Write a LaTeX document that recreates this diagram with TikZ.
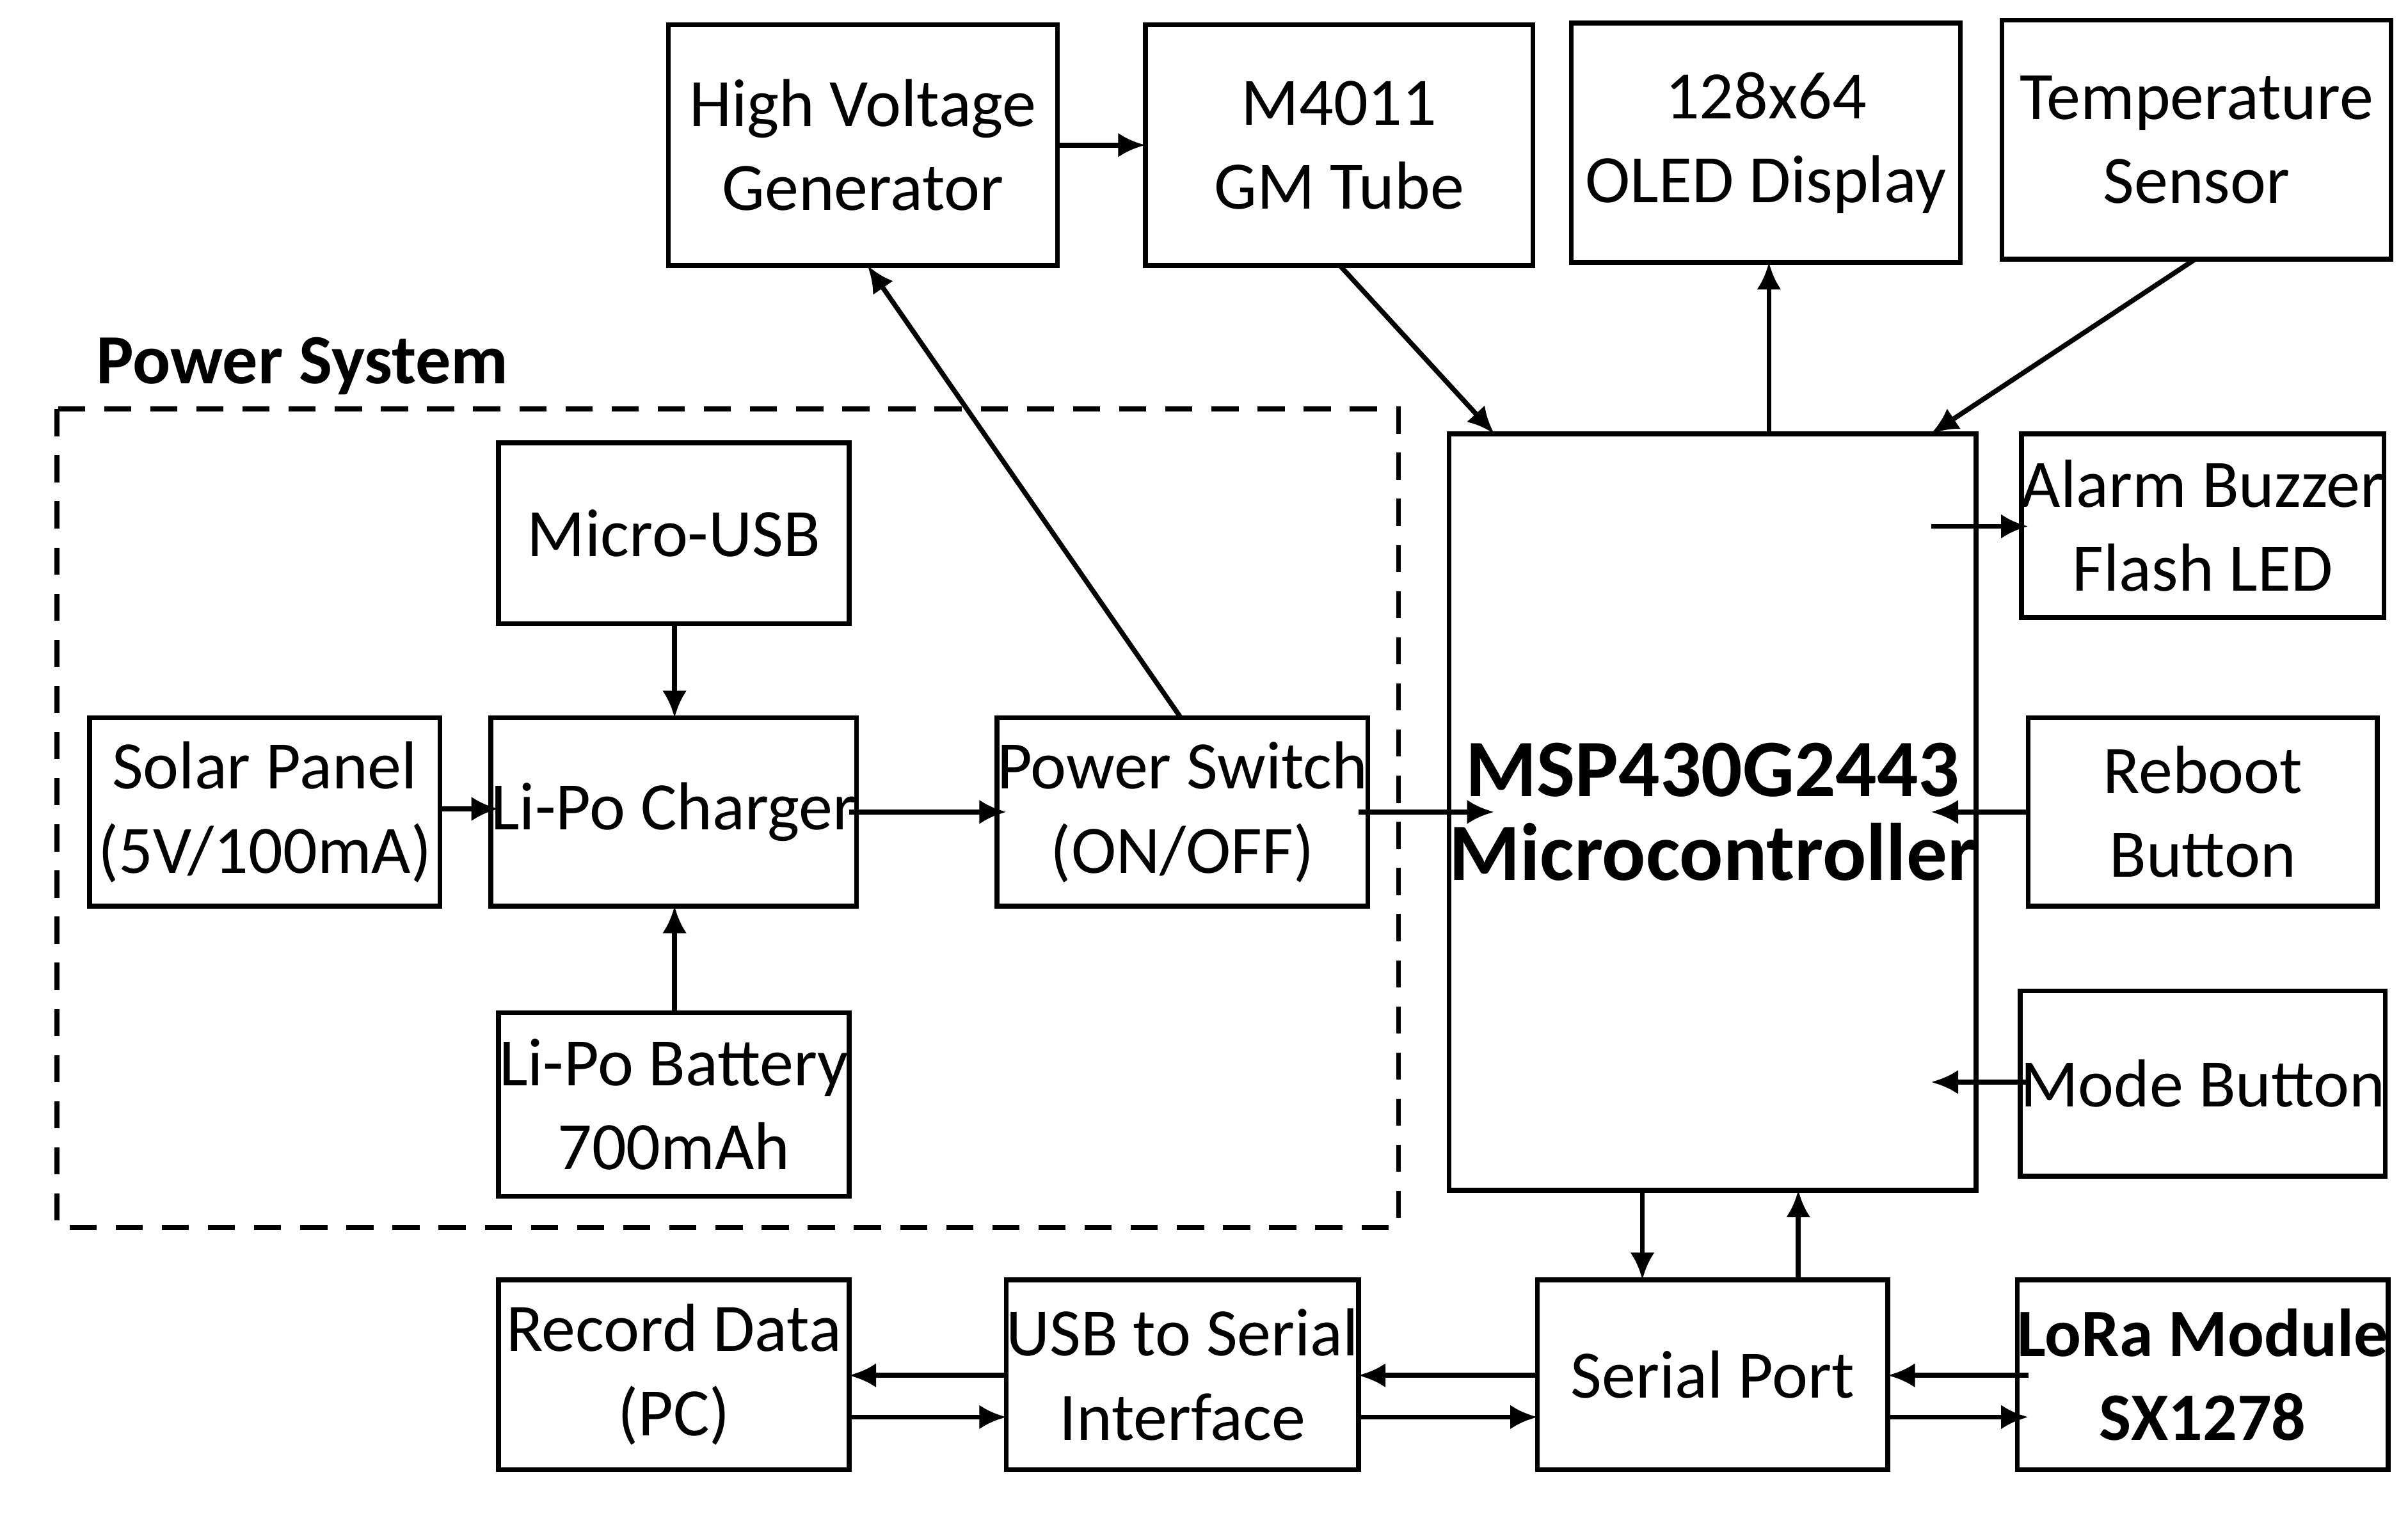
\documentclass[tikz,border=0pt]{standalone}
\usepackage{fontspec}
\setmainfont{Carlito}
\usetikzlibrary{arrows.meta}
\begin{document}
\begin{tikzpicture}[x=0.01cm,y=-0.01cm,
  box/.style={draw,line width=0.9pt,align=center,font=\fontsize{12.5}{15.5}\selectfont},
  arr/.style={line width=0.9pt,-{Latex[length=5pt,width=4.5pt]}}]
\useasboundingbox (0,0) rectangle (1560,982);
\newcommand\bx[6]{\node[box,minimum width={(#4-#2)*0.01cm},minimum height={(#5-#3)*0.01cm},inner sep=0pt] (#1) at ({(#2+#4)/2},{(#3+#5)/2}) {#6};}
\bx{hvg}{433}{16}{685}{172}{High Voltage\\Generator}
\bx{gm}{742}{16}{993}{172}{M4011\\GM Tube}
\bx{oled}{1018}{15}{1270}{170}{128x64\\OLED Display}
\bx{temp}{1297}{13}{1549}{168}{Temperature\\Sensor}
\bx{mcu}{968}{281}{1251}{771}{\fontsize{15}{18.5}\selectfont\bfseries MSP430G2443\\\fontsize{15}{18.5}\selectfont\bfseries Microcontroller}
\bx{alarm}{1314}{281}{1540}{400}{Alarm Buzzer\\Flash LED}
\bx{reboot}{1314}{465}{1540}{587}{Reboot\\Button}
\bx{mode}{1314}{642}{1540}{762}{Mode Button}
\bx{musb}{323}{287}{550}{404}{Micro-USB}
\bx{solar}{58}{465}{285}{587}{Solar Panel\\(5V/100mA)}
\bx{chg}{323}{465}{550}{587}{Li-Po Charger}
\bx{sw}{652}{465}{880}{587}{Power Switch\\(ON/OFF)}
\bx{bat}{323}{656}{550}{775}{Li-Po Battery\\700mAh}
\bx{rec}{323}{829}{550}{952}{Record Data\\(PC)}
\bx{usb}{652}{829}{880}{952}{USB to Serial\\Interface}
\bx{ser}{996}{829}{1223}{952}{Serial Port}
\bx{lora}{1314}{829}{1540}{952}{\bfseries LoRa Module\\\bfseries SX1278}
\draw[line width=0.9pt,dash pattern=on 5pt off 3.5pt] (37,265) rectangle (906,795);
\node[anchor=west,font=\fontsize{13}{15}\selectfont\bfseries] (ps) at (50,237) {Power System};
\draw[arr] (685,94) -- (742,94);
\draw[arr] (868,172) -- (968,281);
\draw[arr] (1146,281) -- (1146,170);
\draw[arr] (1422,168) -- (1251,281);
\draw[arr] (765,465) -- (562,172);
\draw[arr] (1251,341) -- (1314,341);
\draw[arr] (1314,526) -- (1251,526);
\draw[arr] (1314,701) -- (1251,701);
\draw[arr] (437,404) -- (437,465);
\draw[arr] (285,524) -- (323,524);
\draw[arr] (550,526) -- (652,526);
\draw[arr] (437,656) -- (437,587);
\draw[arr] (880,526) -- (968,526);
\draw[arr] (1064,771) -- (1064,829);
\draw[arr] (1165,829) -- (1165,771);
\draw[arr] (996,891) -- (880,891);
\draw[arr] (880,918) -- (996,918);
\draw[arr] (652,891) -- (550,891);
\draw[arr] (550,918) -- (652,918);
\draw[arr] (1314,891) -- (1223,891);
\draw[arr] (1223,918) -- (1314,918);
\end{tikzpicture}
\end{document}
